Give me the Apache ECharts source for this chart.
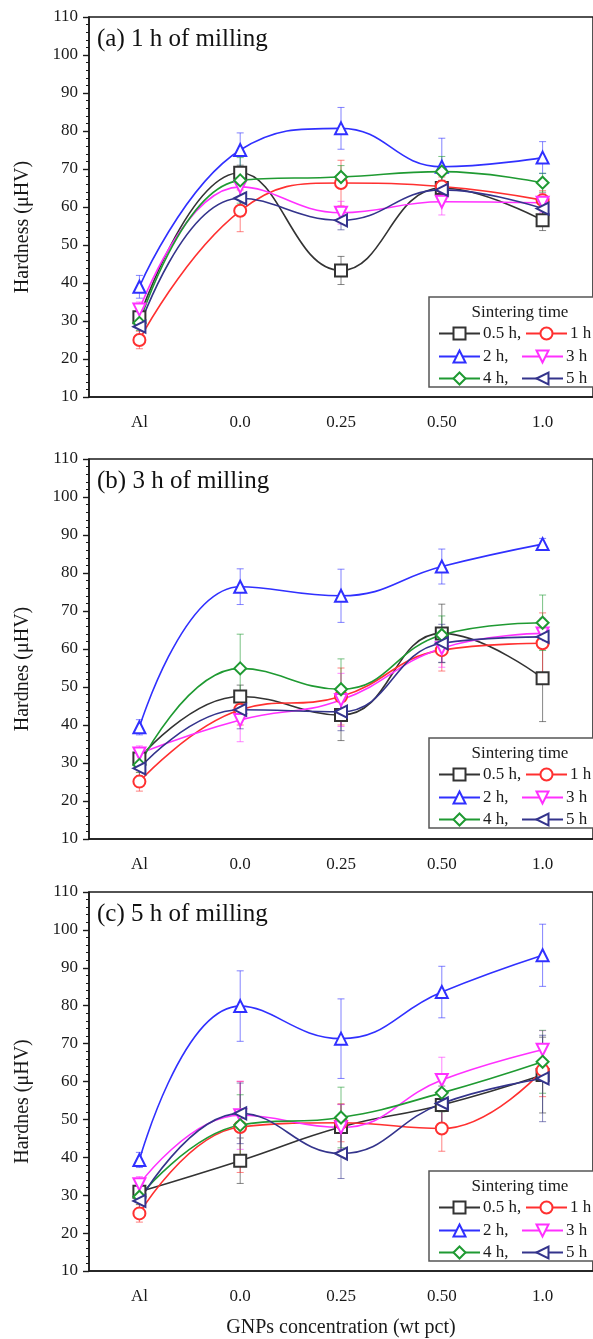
<!DOCTYPE html>
<html>
<head>
<meta charset="utf-8">
<script src="https://cdn.jsdelivr.net/npm/echarts@6/dist/echarts.min.js"></script>
<style>
  html, body { margin: 0; padding: 0; background: #fff; }
  #chart { width: 593px; height: 1339px; }
</style>
</head>
<body>
<div id="chart"></div>
<script>
const categories = ['Al', '0.0', '0.25', '0.50', '1.0'];
const seriesNames = ['0.5 h,', '1 h', '2 h,', '3 h', '4 h,', '5 h'];
const panelTitles = ['(a) 1 h of milling', '(b) 3 h of milling', '(c) 5 h of milling'];
const yNames = ['Hardness (μHV)', 'Hardnes (μHV)', 'Hardnes (μHV)'];
const yTicks = [10, 110, 10]; // min, max, interval

// (a) 1 h of milling — rows follow seriesNames
const hardA = [
  [31, 69, 43.3, 65, 56.5],
  [25, 59, 66.3, 65.4, 61.8],
  [39, 75, 80.7, 70.6, 73],
  [33, 65.3, 58.5, 61.4, 61.1],
  [29.5, 67, 67.9, 69.3, 66.4],
  [28.5, 62.3, 56.5, 64.5, 59.6],
];
const errA = [
  [1.5, 2, 3.7, 2, 2.7],
  [2.3, 5.5, 6, 2.5, 2.5],
  [3, 4.5, 5.5, 7.5, 4.2],
  [2, 3, 3, 3.5, 2.5],
  [2, 6, 3, 4, 2.5],
  [2, 3, 2.5, 2.5, 2.5],
];

// (b) 3 h of milling
const hardB = [
  [31.2, 47.5, 42.6, 64.1, 52.3],
  [25.1, 44, 47.5, 59.7, 61.5],
  [39.4, 76.4, 74, 81.7, 87.6],
  [32.5, 41.3, 46.6, 60.2, 64.1],
  [29.5, 54.9, 49.4, 63.7, 66.9],
  [28.6, 44, 43.5, 61.5, 63.2],
];
const errB = [
  [1.5, 3, 6.7, 7.7, 11.4],
  [2.5, 4, 7.5, 5.5, 8],
  [2, 4.7, 7, 4.6, 1.5],
  [2, 5.7, 7, 5, 4],
  [2, 9, 8, 5, 7.3],
  [2, 5, 5, 5, 3],
];

// (c) 5 h of milling
const hardC = [
  [30.9, 39.1, 48, 53.8, 61.7],
  [25.2, 48, 49.1, 47.6, 63],
  [39.3, 79.9, 71.3, 83.6, 93.3],
  [32.9, 51.1, 47.9, 60.4, 68.4],
  [29.6, 48.5, 50.5, 57, 65.2],
  [28.5, 51.6, 41, 54.2, 60.8],
];
const errC = [
  [1.5, 6, 6, 5, 10],
  [2.3, 12, 5, 6, 7],
  [2, 9.3, 10.5, 6.8, 8.2],
  [2, 9, 6, 6, 5],
  [2, 8, 8, 5, 8.3],
  [2, 8, 6.6, 6, 11.4],
];

const hardAll = [hardA, hardB, hardC];
const errAll = [errA, errB, errC];

const colors = ['#333333', '#ff3030', '#3030ff', '#ff30ff', '#1f9a32', '#34348c'];
const symbols = ['emptyRect', 'emptyCircle', 'emptyTriangle', 'emptyTriangle', 'emptyDiamond', 'emptyTriangle'];
const rotates = [0, 0, 0, 180, 0, 90];

const FONT = 'Liberation Serif';
const gridTops = [17, 459, 892];
const gridH = 380;
const boxTops = [297, 738, 1171];

const chart = echarts.init(document.getElementById('chart'));

const grid = [], xAxis = [], yAxis = [], series = [], title = [], legend = [], graphic = [];

for (let p = 0; p < 3; p++) {
  grid.push({
    left: 89, width: 510, top: gridTops[p], height: gridH,
    show: true, borderColor: '#1a1a1a', borderWidth: 1.5, backgroundColor: 'transparent',
  });
  // main x axis, ticks on labels
  xAxis.push({
    type: 'category', gridIndex: p, data: categories, boundaryGap: true,
    position: 'bottom',
    axisLine: { lineStyle: { color: '#1a1a1a', width: 1.5 } },
    axisTick: { alignWithLabel: true, length: 7, lineStyle: { color: '#1a1a1a', width: 1.4 } },
    axisLabel: { color: '#1a1a1a', fontFamily: FONT, fontSize: 17, margin: 17 },
    name: p === 2 ? 'GNPs concentration (wt pct)' : '',
    nameLocation: 'middle', nameGap: 47,
    nameTextStyle: { color: '#1a1a1a', fontFamily: FONT, fontSize: 20 },
  });
  // small ticks between the categories
  xAxis.push({
    type: 'category', gridIndex: p, data: categories, boundaryGap: true,
    position: 'bottom',
    axisLine: { show: false },
    axisTick: { alignWithLabel: false, length: 4, lineStyle: { color: '#1a1a1a', width: 1.2 } },
    axisLabel: { show: false },
  });
  yAxis.push({
    type: 'value', gridIndex: p, min: yTicks[0], max: yTicks[1], interval: yTicks[2],
    axisLine: { show: true, lineStyle: { color: '#1a1a1a', width: 1.5 } },
    axisTick: { show: true, length: 6, lineStyle: { color: '#1a1a1a', width: 1.4 } },
    minorTick: { show: true, splitNumber: 5, length: 3, lineStyle: { color: '#1a1a1a', width: 1 } },
    splitLine: { show: false },
    axisLabel: { color: '#1a1a1a', fontFamily: FONT, fontSize: 17, margin: 11 },
    name: yNames[p], nameLocation: 'middle', nameGap: 56, nameRotate: 90,
    nameTextStyle: { color: '#1a1a1a', fontFamily: FONT, fontSize: 20, padding: [0, 40, 0, 0] },
  });

  title.push({
    text: panelTitles[p], left: 97, top: gridTops[p] + 10, padding: 0,
    textStyle: { color: '#111', fontFamily: FONT, fontSize: 25, fontWeight: 'normal' },
  });

  const hard = hardAll[p], err = errAll[p];
  for (let s = 0; s < seriesNames.length; s++) {
    // error bars
    series.push({
      type: 'custom', name: 'err' + p + s, xAxisIndex: 2 * p, yAxisIndex: p, z: 1,
      silent: true,
      data: hard[s].map((v, i) => [i, v - err[s][i], v + err[s][i]]),
      renderItem: function (params, api) {
        const lo = api.coord([api.value(0), api.value(1)]);
        const hi = api.coord([api.value(0), api.value(2)]);
        const w = 3.5;
        const style = { stroke: colors[s], lineWidth: 1, opacity: 0.6 };
        return {
          type: 'group',
          children: [
            { type: 'line', shape: { x1: lo[0], y1: lo[1], x2: hi[0], y2: hi[1] }, style: style },
            { type: 'line', shape: { x1: lo[0] - w, y1: lo[1], x2: lo[0] + w, y2: lo[1] }, style: style },
            { type: 'line', shape: { x1: hi[0] - w, y1: hi[1], x2: hi[0] + w, y2: hi[1] }, style: style },
          ],
        };
      },
    });
    series.push({
      type: 'line', name: seriesNames[s], xAxisIndex: 2 * p, yAxisIndex: p, z: 3,
      data: hard[s], smooth: 0.45,
      symbol: symbols[s], symbolRotate: rotates[s], symbolSize: 12,
      lineStyle: { color: colors[s], width: 1.6 },
      itemStyle: { color: colors[s], borderWidth: 1.4 },
    });
  }

  // legend box, one legend per entry so the two columns sit where they should
  const bt = boxTops[p];
  graphic.push({
    type: 'rect', z: 5, shape: { x: 429, y: bt, width: 200, height: 90 },
    style: { fill: '#fff', stroke: '#555', lineWidth: 1.5 },
  });
  graphic.push({
    type: 'text', z: 6, x: 520, y: bt + 16,
    style: { text: 'Sintering time', fill: '#1a1a1a', font: '17px "Liberation Serif"', textAlign: 'center', textVerticalAlign: 'middle' },
  });
  const rowY = [36, 59, 81];
  for (let s = 0; s < seriesNames.length; s++) {
    const row = Math.floor(s / 2), col = s % 2;
    legend.push({
      data: [seriesNames[s]], padding: 0, z: 10,
      left: col === 0 ? 438 : (row === 0 ? 525 : 521),
      top: bt + rowY[row] - 8,
      itemWidth: 41, itemHeight: 15, itemGap: 0,
      selectedMode: false,
      textStyle: { color: '#1a1a1a', fontFamily: FONT, fontSize: 17, padding: [0, 0, 0, -2] },
    });
  }
}

chart.setOption({
  animation: false,
  backgroundColor: '#fff',
  grid, xAxis, yAxis, series, title, legend, graphic,
});
</script>
</body>
</html>
